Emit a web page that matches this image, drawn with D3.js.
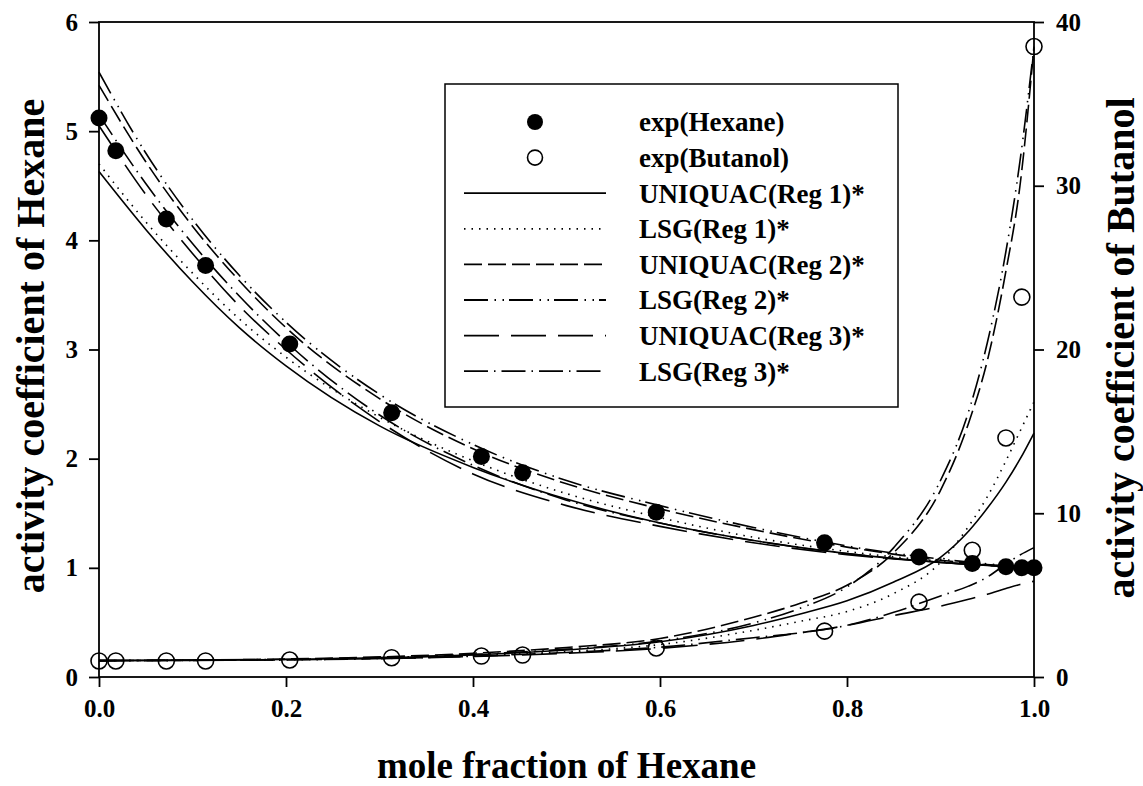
<!DOCTYPE html>
<html>
<head>
<meta charset="utf-8">
<script src="https://cdnjs.cloudflare.com/ajax/libs/d3/7.8.5/d3.min.js"></script>
<style>
  html, body { margin: 0; padding: 0; background: #fff; }
  svg text { font-family: "Liberation Serif", "Times New Roman", serif; font-weight: bold; fill: #000; }
</style>
</head>
<body>
<svg id="chart" width="1143" height="786"></svg>
<script>
// Experimental points: mole fraction of hexane and activity coefficients
const expX = [0, 0.018, 0.072, 0.114, 0.204, 0.313, 0.409, 0.453, 0.596, 0.776, 0.877, 0.934, 0.970, 0.987, 1.0];
const expHexane = [5.12, 4.82, 4.195, 3.77, 3.05, 2.42, 2.02, 1.87, 1.51, 1.23, 1.10, 1.04, 1.01, 1.00, 1.00];
const expButanol = [0.98, 0.98, 0.98, 0.98, 1.04, 1.18, 1.28, 1.34, 1.77, 2.80, 4.57, 7.74, 14.6, 23.2, 38.5];

// Model curves for hexane (left axis)
const hexGrid = [0, 0.05, 0.1, 0.15, 0.2, 0.3, 0.4, 0.5, 0.6, 0.7, 0.8, 0.9, 1.0];
const hexUniquac1 = [4.63, 4.10, 3.62, 3.20, 2.85, 2.30, 1.92, 1.63, 1.41, 1.25, 1.13, 1.05, 1.0];
const hexLsg1     = [4.70, 4.17, 3.70, 3.28, 2.93, 2.38, 1.98, 1.68, 1.46, 1.28, 1.15, 1.06, 1.0];
const hexUniquac2 = [5.42, 4.72, 4.13, 3.63, 3.20, 2.55, 2.09, 1.77, 1.54, 1.35, 1.19, 1.07, 1.0];
const hexLsg2     = [5.54, 4.80, 4.19, 3.68, 3.25, 2.59, 2.13, 1.80, 1.57, 1.37, 1.20, 1.08, 1.0];
const hexUniquac3 = [5.05, 4.42, 3.88, 3.40, 3.00, 2.34, 1.86, 1.57, 1.38, 1.23, 1.12, 1.05, 1.0];
const hexLsg3     = [5.15, 4.52, 3.97, 3.49, 3.07, 2.40, 1.94, 1.62, 1.41, 1.25, 1.13, 1.05, 1.0];

// Model curves for butanol (right axis)
const butGrid = [0, 0.2, 0.4, 0.5, 0.6, 0.7, 0.75, 0.8, 0.85, 0.9, 0.93, 0.95, 0.97, 0.985, 1.0];
const butUniquac1 = [1.0, 1.07, 1.35, 1.65, 2.15, 3.15, 3.85, 4.65, 5.8, 7.3, 8.9, 10.3, 11.9, 13.3, 14.9];
const butLsg1     = [1.0, 1.05, 1.30, 1.55, 1.98, 2.85, 3.40, 4.00, 5.1, 7.0, 9.2, 11.0, 13.2, 15.0, 16.8];
const butUniquac2 = [1.0, 1.10, 1.45, 1.80, 2.35, 3.65, 4.50, 5.60, 7.6, 11.4, 15.5, 19.3, 24.8, 30.0, 38.5];
const butLsg2     = [1.0, 1.08, 1.38, 1.70, 2.20, 3.30, 4.20, 5.50, 7.9, 12.0, 16.2, 20.4, 26.0, 31.5, 38.5];
const butUniquac3 = [1.0, 1.05, 1.25, 1.45, 1.75, 2.30, 2.70, 3.15, 3.75, 4.33, 4.75, 5.05, 5.40, 5.65, 5.85];
const butLsg3     = [1.0, 1.05, 1.27, 1.50, 1.82, 2.40, 2.70, 3.15, 3.95, 4.95, 5.55, 6.10, 6.90, 7.45, 7.90];

const xTicks = [0, 0.2, 0.4, 0.6, 0.8, 1.0];
const leftTicks = [0, 1, 2, 3, 4, 5, 6];
const rightTicks = [0, 10, 20, 30, 40];

const legendLabels = ["exp(Hexane)", "exp(Butanol)", "UNIQUAC(Reg 1)*", "LSG(Reg 1)*",
                      "UNIQUAC(Reg 2)*", "LSG(Reg 2)*", "UNIQUAC(Reg 3)*", "LSG(Reg 3)*"];

// Line styles for the six model fits
const styles = {
  uniquac1: null,
  lsg1: "1.5,6",
  uniquac2: "18,6",
  lsg2: "24,6.5,1.5,6.5,1.5,5",
  uniquac3: "35,12",
  lsg3: "24,6,1.5,6"
};

const models = [
  {key: "uniquac1", hex: hexUniquac1, but: butUniquac1},
  {key: "lsg1",     hex: hexLsg1,     but: butLsg1},
  {key: "uniquac2", hex: hexUniquac2, but: butUniquac2},
  {key: "lsg2",     hex: hexLsg2,     but: butLsg2},
  {key: "uniquac3", hex: hexUniquac3, but: butUniquac3},
  {key: "lsg3",     hex: hexLsg3,     but: butLsg3}
];

const svg = d3.select("#chart");
const plot = {left: 99, right: 1034, top: 22, bottom: 677};

const x = d3.scaleLinear().domain([0, 1]).range([plot.left, plot.right]);
const yL = d3.scaleLinear().domain([0, 6]).range([plot.bottom, plot.top]);
const yR = d3.scaleLinear().domain([0, 40]).range([plot.bottom, plot.top]);

// Axes
const axisStroke = 1.8;
const gx = svg.append("g").attr("transform", `translate(0,${plot.bottom})`)
  .call(d3.axisBottom(x).tickValues(xTicks).tickSize(10).tickPadding(10).tickFormat(d3.format(".1f")));
const gl = svg.append("g").attr("transform", `translate(${plot.left},0)`)
  .call(d3.axisLeft(yL).tickValues(leftTicks).tickSize(10).tickPadding(11).tickFormat(d3.format("d")));
const gr = svg.append("g").attr("transform", `translate(${plot.right},0)`)
  .call(d3.axisRight(yR).tickValues(rightTicks).tickSize(10).tickPadding(12).tickFormat(d3.format("d")));
[gx, gl, gr].forEach(g => {
  g.select(".domain").remove();
  g.selectAll(".tick line").attr("stroke", "#000").attr("stroke-width", axisStroke);
  g.selectAll(".tick text").style("font-size", "25px").attr("fill", "#000");
});
gx.selectAll(".tick text").attr("dy", "0.8em");

// Plot frame
svg.append("rect")
  .attr("x", plot.left).attr("y", plot.top)
  .attr("width", plot.right - plot.left).attr("height", plot.bottom - plot.top)
  .attr("fill", "none").attr("stroke", "#000").attr("stroke-width", axisStroke);

// Model curves
const lineHex = d3.line().x(d => x(d[0])).y(d => yL(d[1])).curve(d3.curveMonotoneX);
const lineBut = d3.line().x(d => x(d[0])).y(d => yR(d[1])).curve(d3.curveMonotoneX);

const curves = svg.append("g").attr("fill", "none").attr("stroke", "#000").attr("stroke-width", 1.6);
models.forEach(m => {
  curves.append("path")
    .attr("d", lineHex(hexGrid.map((v, i) => [v, m.hex[i]])))
    .attr("stroke-dasharray", styles[m.key]);
  curves.append("path")
    .attr("d", lineBut(butGrid.map((v, i) => [v, m.but[i]])))
    .attr("stroke-dasharray", styles[m.key]);
});

// Experimental points
const pts = svg.append("g");
pts.selectAll("circle.hex").data(expX).join("circle")
  .attr("class", "hex")
  .attr("cx", d => x(d)).attr("cy", (d, i) => yL(expHexane[i]))
  .attr("r", 8.5).attr("fill", "#000");
pts.selectAll("circle.but").data(expX).join("circle")
  .attr("class", "but")
  .attr("cx", d => x(d)).attr("cy", (d, i) => yR(expButanol[i]))
  .attr("r", 8).attr("fill", "none").attr("stroke", "#000").attr("stroke-width", 1.6);

// Legend
const legend = svg.append("g");
legend.append("rect")
  .attr("x", 445).attr("y", 84).attr("width", 453).attr("height", 323)
  .attr("fill", "#fff").attr("stroke", "#000").attr("stroke-width", 1.5);
const rowY = i => 122 + i * 35.6;
legend.append("circle").attr("cx", 535).attr("cy", rowY(0)).attr("r", 8).attr("fill", "#000");
legend.append("circle").attr("cx", 535).attr("cy", rowY(1)).attr("r", 7.5)
  .attr("fill", "none").attr("stroke", "#000").attr("stroke-width", 1.6);
models.forEach((m, i) => {
  legend.append("line")
    .attr("x1", 464).attr("x2", 606)
    .attr("y1", rowY(i + 2)).attr("y2", rowY(i + 2))
    .attr("stroke", "#000").attr("stroke-width", 1.8)
    .attr("stroke-dasharray", styles[m.key]);
});
legend.selectAll("text").data(legendLabels).join("text")
  .attr("x", 639).attr("y", (d, i) => rowY(i)).attr("dy", "0.35em")
  .style("font-size", "27px").text(d => d);

// Axis titles
svg.append("text")
  .attr("transform", `translate(30,346) rotate(-90)`)
  .attr("text-anchor", "middle").attr("dy", "0.35em")
  .style("font-size", "40px").text("activity coefficient of Hexane");
svg.append("text")
  .attr("transform", `translate(1120,348) rotate(-90)`)
  .attr("text-anchor", "middle").attr("dy", "0.35em")
  .style("font-size", "40px").text("activity coefficient of Butanol");
svg.append("text")
  .attr("x", (plot.left + plot.right) / 2).attr("y", 778)
  .attr("text-anchor", "middle")
  .style("font-size", "37px").text("mole fraction of Hexane");
</script>
</body>
</html>
